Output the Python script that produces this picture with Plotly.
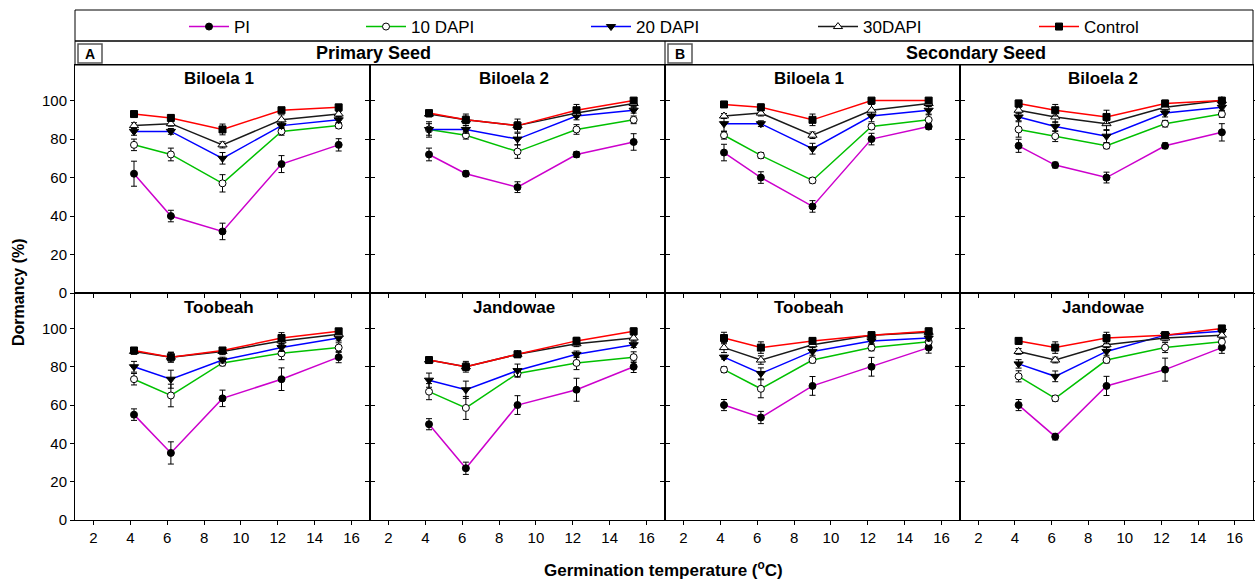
import plotly.graph_objects as go

W, H = 1255, 583

# ---------------- data ----------------
temps = [4.2, 6.2, 9.0, 12.2, 15.3]
series = ["PI", "10 DAPI", "20 DAPI", "30DAPI", "Control"]
x_ticks = [2, 4, 6, 8, 10, 12, 14, 16]
y_ticks = [0, 20, 40, 60, 80, 100]

# Primary seed - Biloela 1
prim_bil1 = {"PI": [62, 40, 32, 67, 77], "10 DAPI": [77, 72, 57, 84, 87],
             "20 DAPI": [84, 84, 70, 87, 90], "30DAPI": [87, 88, 77, 90, 93],
             "Control": [93, 91, 85, 95, 96.5]}
prim_bil1_err = {"PI": [6.5, 3, 4.3, 4.4, 3.2], "10 DAPI": [3, 3.3, 4.5, 2, 1.5],
                 "20 DAPI": [2, 1.5, 3, 1.5, 1.5], "30DAPI": [1.5, 1.3, 1.6, 2.6, 1.3],
                 "Control": [1.2, 1.7, 2.8, 1, 1.5]}
# Primary seed - Biloela 2
prim_bil2 = {"PI": [72, 62, 55, 72, 78.5], "10 DAPI": [85, 82, 73.5, 85, 90],
             "20 DAPI": [85, 85, 80, 92, 95], "30DAPI": [93, 90, 87, 93.5, 98.5],
             "Control": [93.5, 90, 87, 95, 100]}
prim_bil2_err = {"PI": [3.3, 1.5, 2.8, 1.5, 4.3], "10 DAPI": [4, 2, 3.5, 2.5, 2],
                 "20 DAPI": [3, 2, 3, 2, 1.5], "30DAPI": [1.5, 2, 2, 2, 1.5],
                 "Control": [1.2, 3, 3.4, 3, 1.2]}
# Secondary seed - Biloela 1
sec_bil1 = {"PI": [73, 60, 45, 80, 86.5], "10 DAPI": [82, 71.5, 58.5, 86.5, 90],
            "20 DAPI": [88, 88, 75, 92, 95], "30DAPI": [92, 93.5, 82, 95, 98.5],
            "Control": [98, 96.5, 90, 100, 100]}
sec_bil1_err = {"PI": [4.3, 3, 3, 3, 1.5], "10 DAPI": [2, 1.5, 1.4, 1.5, 2.6],
                "20 DAPI": [3.9, 1.5, 2.8, 3, 2], "30DAPI": [1.3, 1.5, 1.7, 3, 1.5],
                "Control": [1.5, 1.7, 3, 1, 1]}
# Secondary seed - Biloela 2
sec_bil2 = {"PI": [76.5, 66.5, 60, 76.5, 83.5], "10 DAPI": [85, 81.5, 76.5, 88, 93],
            "20 DAPI": [91.5, 86.5, 81.5, 93.5, 96.5], "30DAPI": [95, 91.5, 88, 96.5, 100],
            "Control": [98.5, 95, 91.5, 98.5, 100]}
sec_bil2_err = {"PI": [3.4, 1.5, 2.8, 1.5, 4.5], "10 DAPI": [4, 2.8, 1.5, 1.7, 1.7],
                "20 DAPI": [2, 2.5, 3.4, 2, 1.5], "30DAPI": [1.5, 3, 3.5, 1.5, 1],
                "Control": [1.7, 3, 3.5, 1.7, 1.3]}
# Primary seed - Toobeah
prim_toob = {"PI": [55, 35, 63.5, 73.5, 85], "10 DAPI": [73.5, 65, 82, 87, 90],
             "20 DAPI": [80, 73.5, 83.5, 90, 95], "30DAPI": [88, 85, 88, 93.5, 97],
             "Control": [88.5, 85, 88.5, 95, 98.5]}
prim_toob_err = {"PI": [3, 5.8, 4.3, 5.9, 2.9], "10 DAPI": [3, 5.9, 1.5, 3.3, 2.5],
                 "20 DAPI": [2.8, 4.7, 1.5, 2, 1.5], "30DAPI": [1.5, 2.5, 1.7, 2, 1.5],
                 "Control": [1.4, 2.6, 1.5, 2.8, 1.3]}
# Primary seed - Jandowae
prim_jand = {"PI": [50, 27, 60, 68, 80], "10 DAPI": [67, 58.5, 76.5, 82, 85],
             "20 DAPI": [73, 68, 78, 86.5, 91.5], "30DAPI": [83.5, 80, 86.5, 92, 95],
             "Control": [83.5, 80, 86.5, 93.5, 98.5]}
prim_jand_err = {"PI": [2.9, 3.2, 4.9, 6, 3], "10 DAPI": [4.2, 6, 1.7, 3.5, 2.8],
                 "20 DAPI": [3.7, 4.5, 3.4, 1.7, 1.5], "30DAPI": [1.5, 2, 1.5, 1.5, 1.5],
                 "Control": [1.7, 2.8, 1.7, 1.9, 1.7]}
# Secondary seed - Toobeah
sec_toob = {"PI": [60, 53.5, 70, 80, 90], "10 DAPI": [78.5, 68.5, 83.5, 90, 93],
            "20 DAPI": [85, 76.5, 88, 93.5, 95], "30DAPI": [90, 83.5, 91.5, 96.5, 98],
            "Control": [95, 90, 93.5, 96.5, 98.5]}
sec_toob_err = {"PI": [2.9, 3.2, 4.9, 4.9, 2.9], "10 DAPI": [1.5, 4.7, 1.5, 1.7, 1.5],
                "20 DAPI": [1, 2.9, 2, 1.5, 1.5], "30DAPI": [2.6, 2.2, 1.5, 1.5, 1.5],
                "Control": [3, 3, 1.7, 1.5, 1.7]}
# Secondary seed - Jandowae
sec_jand = {"PI": [60, 43.5, 70, 78.5, 90], "10 DAPI": [75, 63.5, 83.5, 90, 93],
            "20 DAPI": [81.5, 75, 88, 96.5, 98.5], "30DAPI": [88, 83.5, 91.5, 95, 96.5],
            "Control": [93.5, 90, 95, 96.5, 100]}
sec_jand_err = {"PI": [2.9, 1.7, 5, 6, 3], "10 DAPI": [2.9, 1.5, 1.5, 2.6, 2],
                "20 DAPI": [2.2, 2.8, 2, 1.5, 1.5], "30DAPI": [1.5, 1.5, 1.5, 1.5, 1.5],
                "Control": [1.7, 3, 3, 1.7, 1.3]}

panels = [
    ("Biloela 1", prim_bil1, prim_bil1_err),
    ("Biloela 2", prim_bil2, prim_bil2_err),
    ("Biloela 1", sec_bil1, sec_bil1_err),
    ("Biloela 2", sec_bil2, sec_bil2_err),
    ("Toobeah", prim_toob, prim_toob_err),
    ("Jandowae", prim_jand, prim_jand_err),
    ("Toobeah", sec_toob, sec_toob_err),
    ("Jandowae", sec_jand, sec_jand_err),
]

# ---------------- styles ----------------
FONT = "Liberation Sans, Arial, sans-serif"
styles = {
    "PI": dict(color="#CC00CC", symbol="circle", fill="black", size=7),
    "10 DAPI": dict(color="#00C000", symbol="circle", fill="white", size=7),
    "20 DAPI": dict(color="#0000FF", symbol="triangle-down", fill="black", size=8),
    "30DAPI": dict(color="#1a1a1a", symbol="triangle-up", fill="white", size=8),
    "Control": dict(color="#FF0000", symbol="square", fill="black", size=7),
}
legend_marker_px = {"PI": 207, "10 DAPI": 384, "20 DAPI": 609, "30DAPI": 836, "Control": 1057}
legend_ids = {"PI": "legend", "10 DAPI": "legend2", "20 DAPI": "legend3",
              "30DAPI": "legend4", "Control": "legend5"}


def px(x):
    return x / W


def py(y):
    return 1 - y / H


col_px = [(75, 370), (370, 665), (665, 960), (960, 1253)]
row_px = [(65, 293), (293, 520)]

fig = go.Figure()
layout = {}
annotations = []


def ann(text, x, y, size, angle=0):
    return dict(text=text, x=px(x), y=py(y), xref="paper", yref="paper",
                showarrow=False, xanchor="center", yanchor="middle", textangle=angle,
                font=dict(family=FONT, size=size, color="black"))


for i, (title, vals, errs) in enumerate(panels):
    r, c = divmod(i, 4)
    n = i + 1
    xa = "x" if n == 1 else f"x{n}"
    ya = "y" if n == 1 else f"y{n}"
    for s in series:
        st = styles[s]
        fig.add_trace(go.Scatter(
            x=temps, y=vals[s], xaxis=xa, yaxis=ya, name=s,
            mode="lines+markers",
            line=dict(color=st["color"], width=1.5),
            marker=dict(symbol=st["symbol"], size=st["size"], color=st["fill"],
                        line=dict(color="black", width=1)),
            error_y=dict(type="data", array=errs[s], color="black", thickness=1, width=3),
            showlegend=(i == 0), legend=legend_ids[s],
        ))
    x0, x1 = col_px[c]
    y0, y1 = row_px[r]
    layout[f"xaxis{'' if n == 1 else n}"] = dict(
        domain=[px(x0), px(x1)], range=[1, 17], tickvals=x_ticks,
        ticks="outside", ticklen=4, tickcolor="black", showline=True, mirror=True,
        linecolor="black", linewidth=1, showgrid=False, zeroline=False,
        showticklabels=(r == 1), tickfont=dict(family=FONT, size=15, color="black"),
        anchor=ya, fixedrange=True, automargin=False,
    )
    layout[f"yaxis{'' if n == 1 else n}"] = dict(
        domain=[py(y1), py(y0)], range=[0, 118.5], tickvals=y_ticks,
        ticks="outside", ticklen=4, tickcolor="black", showline=True, mirror="ticks",
        linecolor="black", linewidth=1, showgrid=False, zeroline=False,
        showticklabels=(c == 0), tickfont=dict(family=FONT, size=15, color="black"),
        anchor=xa, fixedrange=True, automargin=False,
    )
    annotations.append(ann(f"<b>{title}</b>", (x0 + x1) / 2 - 4, 78 if r == 0 else 307, 17))

# headers
annotations += [
    ann("<b>Primary Seed</b>", 373, 53, 18),
    ann("<b>Secondary Seed</b>", 976, 53, 18),
    ann("<b>A</b>", 90, 54, 14),
    ann("<b>B</b>", 680, 54, 14),
    ann("<b>Dormancy (%)</b>", 18, 292, 16, -90),
    ann("<b>Germination temperature (<sup>o</sup>C)</b>", 664, 569, 17),
]


def rect(x0, y0, x1, y1, color="black", width=1):
    return dict(type="rect", xref="paper", yref="paper", x0=px(x0), x1=px(x1),
                y0=py(y1), y1=py(y0), line=dict(color=color, width=width))


shapes = [
    rect(75, 10, 1253, 41),
    rect(75, 41, 1253, 65),
    dict(type="line", xref="paper", yref="paper", x0=px(665), x1=px(665), y0=py(65), y1=py(41),
         line=dict(color="black", width=1)),
    rect(78, 44, 102, 63, "#555555", 1.5),
    rect(668, 44, 692, 63, "#555555", 1.5),
]

for s in series:
    key = legend_ids[s]
    layout[key] = dict(
        x=px(legend_marker_px[s] - 23), y=py(27), xanchor="left", yanchor="middle",
        orientation="h", bgcolor="rgba(0,0,0,0)", borderwidth=0, itemwidth=40,
        font=dict(family=FONT, size=17, color="black"),
    )

fig.update_layout(
    width=W, height=H, margin=dict(l=0, r=0, t=0, b=0, autoexpand=False),
    paper_bgcolor="white", plot_bgcolor="white",
    annotations=annotations, shapes=shapes, **layout,
)

fig.write_html("out.html", config={"displayModeBar": False},
               post_script="document.body.style.margin='0';document.body.style.padding='0';")
